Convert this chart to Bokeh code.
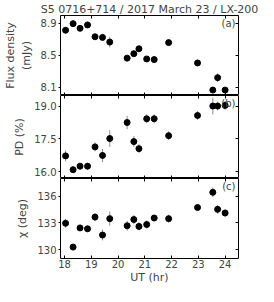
from bokeh.plotting import figure
from bokeh.models import LinearAxis, FixedTicker, Range1d, Label, ColumnDataSource
from bokeh.layouts import column
from bokeh.embed import file_html
from bokeh.resources import INLINE

title_text = "S5 0716+714 / 2017 March 23 / LX-200"

ut = [18.04, 18.32, 18.58, 18.86, 19.14, 19.42, 19.69, 20.34, 20.59, 20.78,
      21.07, 21.35, 21.89, 22.97, 23.54, 23.72, 24.00]
flux = [8.811, 8.893, 8.835, 8.877, 8.729, 8.721, 8.663, 8.462, 8.518, 8.579,
        8.452, 8.444, 8.656, 8.402, 8.063, 8.218, 8.063]
flux_err = [0.02, 0.02, 0.02, 0.02, 0.025, 0.035, 0.065, 0.03, 0.02, 0.02,
            0.02, 0.02, 0.02, 0.02, 0.03, 0.055, 0.03]
pd_val = [16.73, 16.10, 16.26, 16.26, 17.14, 16.75, 17.52, 18.25, 17.38, 17.06,
          18.42, 18.42, 17.65, 18.57, 19.00, 19.00, 19.03]
pd_err = [0.25, 0.15, 0.15, 0.15, 0.2, 0.3, 0.38, 0.3, 0.25, 0.2,
          0.2, 0.2, 0.2, 0.2, 0.38, 0.2, 0.2]
chi = [132.95, 130.28, 132.43, 132.33, 133.64, 131.63, 133.47, 132.67, 133.37, 132.60,
       132.81, 133.54, 133.47, 134.72, 136.42, 134.51, 134.10]
chi_err = [0.5, 0.35, 0.3, 0.3, 0.45, 0.6, 0.8, 0.55, 0.5, 0.45,
           0.45, 0.35, 0.45, 0.35, 0.55, 0.5, 0.4]

x_ticks = [18, 19, 20, 21, 22, 23, 24]
flux_ticks = [8.1, 8.5, 8.9]
flux_labels = ["8.1", "8.5", "8.9"]
pd_ticks = [16.0, 17.5, 19.0]
pd_labels = ["16.0", "17.5", "19.0"]
chi_ticks = [130, 133, 136]
chi_labels = ["130", "133", "136"]

FONT = "DejaVu Sans"


def hidden_axis(ticks):
    ax = LinearAxis(ticker=FixedTicker(ticks=ticks))
    ax.major_label_text_font_size = "0px"
    ax.major_label_text_color = None
    ax.major_label_standoff = 0
    ax.major_tick_in = 3
    ax.major_tick_out = 0
    ax.minor_tick_in = 0
    ax.minor_tick_out = 0
    ax.axis_line_color = None
    ax.major_tick_line_color = "black"
    return ax


def panel(yv, ye, yr, yticks, ylabels, ylabel, tag, height, top, bottom, last=False, title=None):
    p = figure(width=258, height=height, x_range=Range1d(17.85, 24.5),
               y_range=Range1d(*yr), output_backend="svg", toolbar_location=None,
               x_axis_location=None, y_axis_location=None,
               min_border_left=41, min_border_right=20,
               min_border_top=top, min_border_bottom=bottom)
    p.grid.visible = False
    p.outline_line_color = "black"
    p.outline_line_width = 1
    p.background_fill_color = "white"
    p.border_fill_color = "white"
    if title:
        p.title.text = title
        p.title.text_font = FONT
        p.title.text_font_size = "11px"
        p.title.text_font_style = "normal"
        p.title.align = "center"
        p.title.standoff = 0
        p.title.offset = 0

    lo = [v - e for v, e in zip(yv, ye)]
    hi = [v + e for v, e in zip(yv, ye)]
    src = ColumnDataSource(dict(x=ut, y=yv, lo=lo, hi=hi))
    p.segment(x0="x", y0="lo", x1="x", y1="hi", source=src, line_color="#8c8c8c", line_width=1)
    p.scatter(x="x", y="y", source=src, size=6, fill_color="black", line_color="black")

    left = LinearAxis(ticker=FixedTicker(ticks=yticks))
    left.major_label_overrides = {t: s for t, s in zip(yticks, ylabels)}
    left.major_label_text_font = FONT
    left.major_label_text_font_size = "10px"
    left.major_label_standoff = 2
    left.major_tick_in = 0
    left.major_tick_out = 2
    left.minor_tick_in = 0
    left.minor_tick_out = 0
    left.axis_line_color = None
    left.axis_label = ylabel
    left.axis_label_text_font = FONT
    left.axis_label_text_font_size = "11px"
    left.axis_label_text_font_style = "normal"
    left.axis_label_standoff = 5
    p.add_layout(left, "left")
    p.add_layout(hidden_axis(yticks), "right")
    p.add_layout(hidden_axis(x_ticks), "above")
    if last:
        b = LinearAxis(ticker=FixedTicker(ticks=x_ticks))
        b.major_label_text_font = FONT
        b.major_label_text_font_size = "10px"
        b.major_label_standoff = 1
        b.major_tick_in = 3
        b.major_tick_out = 0
        b.minor_tick_in = 0
        b.minor_tick_out = 0
        b.axis_line_color = None
        b.axis_label = "UT (hr)"
        b.axis_label_text_font = FONT
        b.axis_label_text_font_size = "11px"
        b.axis_label_text_font_style = "normal"
        b.axis_label_standoff = 0
        p.add_layout(b, "below")
    else:
        p.add_layout(hidden_axis(x_ticks), "below")

    p.add_layout(Label(x=24.5, y=yr[1], x_offset=-3, y_offset=-2, text=tag,
                       text_align="right", text_baseline="top",
                       text_font=FONT, text_font_size="10px"))
    return p


pa = panel(flux, flux_err, (7.995, 8.995), flux_ticks, flux_labels,
           "Flux density\n(mJy)", "(a)", 95, 12, 0, title=title_text)
pb = panel(pd_val, pd_err, (15.70, 19.48), pd_ticks, pd_labels,
           "PD (%)", "(b)", 83, 0, 0)
pc = panel(chi, chi_err, (129.0, 137.97), chi_ticks, chi_labels,
           "\u03c7 (deg)", "(c)", 108, 0, 26, last=True)

layout = column(pa, pb, pc, spacing=0)
open("out.html", "w").write(file_html(layout, INLINE))
